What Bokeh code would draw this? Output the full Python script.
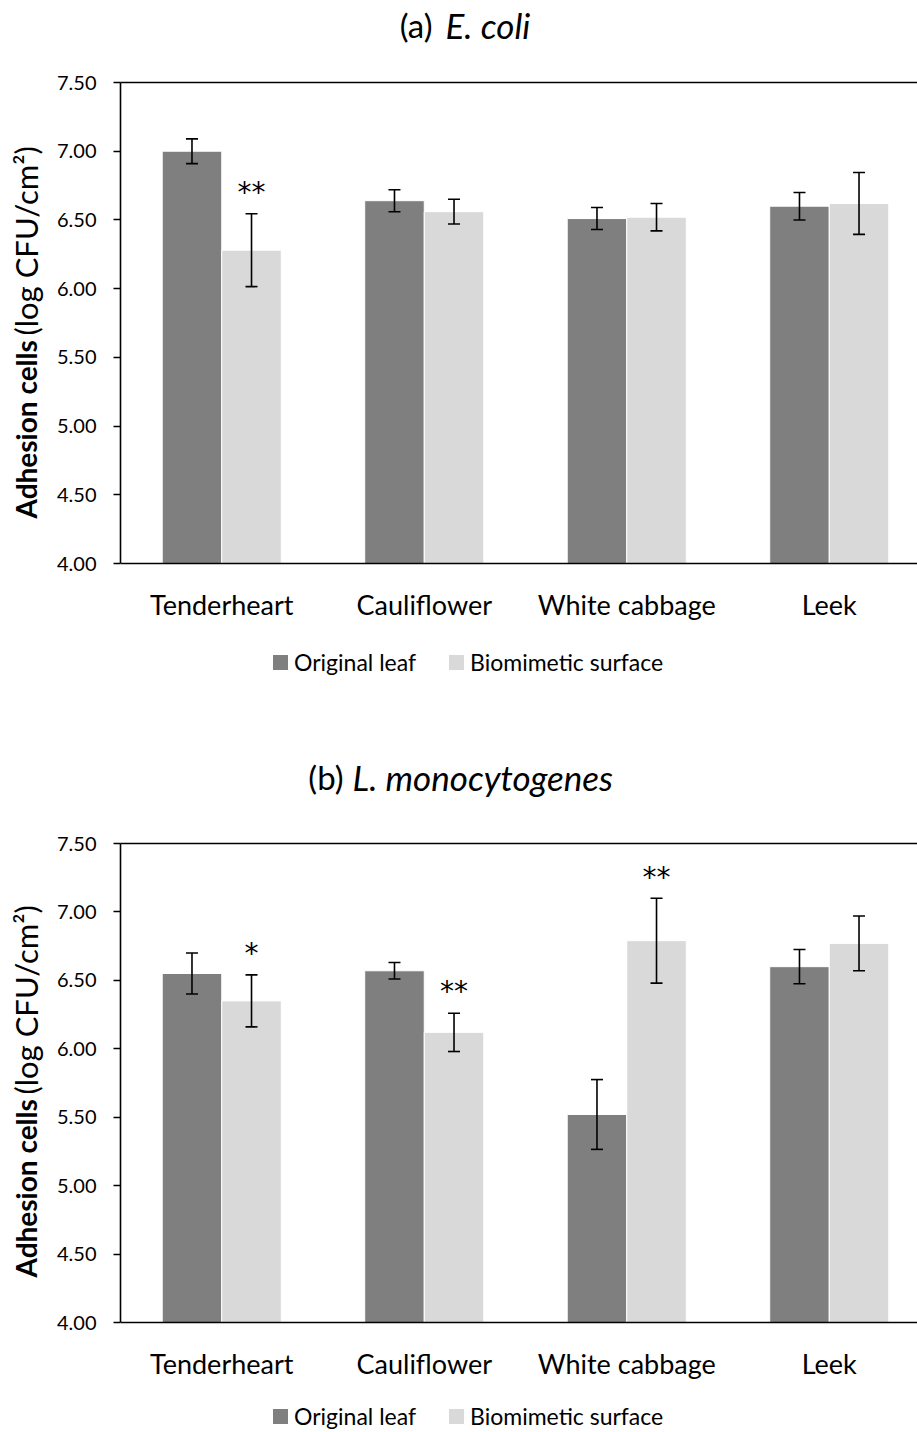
from bokeh.plotting import figure
from bokeh.models import (ColumnDataSource, Whisker, TeeHead, Label, Legend, LegendItem,
                          FixedTicker, LinearAxis, Range1d, NumeralTickFormatter)
from bokeh.layouts import column
from bokeh.embed import file_html
from bokeh.resources import INLINE
from bokeh.core.properties import value

# ---------------- data ----------------
categories = ["Tenderheart", "Cauliflower", "White cabbage", "Leek"]
series_names = ["Original leaf", "Biomimetic surface"]
y_ticks = [4.0, 4.5, 5.0, 5.5, 6.0, 6.5, 7.0, 7.5]
y_min, y_max = 4.0, 7.5

ecoli_original = [7.00, 6.64, 6.51, 6.60]
ecoli_original_err = [0.09, 0.08, 0.08, 0.10]
ecoli_biomimetic = [6.28, 6.56, 6.52, 6.62]
ecoli_biomimetic_err = [0.265, 0.09, 0.10, 0.225]
ecoli_stars_bio = ["**", "", "", ""]

listeria_original = [6.55, 6.57, 5.52, 6.60]
listeria_original_err = [0.15, 0.06, 0.255, 0.125]
listeria_biomimetic = [6.35, 6.12, 6.79, 6.77]
listeria_biomimetic_err = [0.19, 0.14, 0.31, 0.20]
listeria_stars_bio = ["*", "**", "**", ""]

FONT = "Lato"
DARK = "#7f7f7f"
LIGHT = "#d9d9d9"
OFF = 0.147
BW = 0.294
FRAME_LEFT = 120
FRAME_W = 797
BOLD_PX = 28
NORM_PX = 31


def make_panel(tag, organism, orig, orig_err, bio, bio_err, stars,
               plot_h, frame_h, top, title_y, tag_x, org_x, legend_y):
    # plot_h: pixel height of the 4.00..7.50 span; the frame continues below it
    ppu = plot_h / (y_max - y_min)
    y_lo = y_max - frame_h / ppu
    below = (y_min - y_lo) * ppu  # pixels from frame bottom up to the 4.00 line

    p = figure(frame_width=FRAME_W, frame_height=frame_h,
               min_border_left=FRAME_LEFT, min_border_right=0,
               min_border_top=top, min_border_bottom=0,
               x_range=Range1d(0, FRAME_W / 202.5), y_range=Range1d(y_lo, y_max),
               output_backend="svg", toolbar_location=None,
               outline_line_color=None, background_fill_color="white")
    p.xgrid.visible = False
    p.ygrid.visible = False

    xs = [i + 0.5 for i in range(len(categories))]
    src = ColumnDataSource(dict(
        xo=[x - OFF for x in xs], xb=[x + OFF for x in xs],
        orig=orig, bio=bio,
        o_up=[v + e for v, e in zip(orig, orig_err)],
        o_lo=[v - e for v, e in zip(orig, orig_err)],
        b_up=[v + e for v, e in zip(bio, bio_err)],
        b_lo=[v - e for v, e in zip(bio, bio_err)],
        star_y=[v + e + 0.155 for v, e in zip(bio, bio_err)],
        stars=stars,
    ))

    r1 = p.vbar(x="xo", top="orig", bottom=y_min, width=BW, source=src,
                fill_color=DARK, line_color="white", line_width=1)
    r2 = p.vbar(x="xb", top="bio", bottom=y_min, width=BW, source=src,
                fill_color=LIGHT, line_color="white", line_width=1)

    for base, up, lo in (("xo", "o_up", "o_lo"), ("xb", "b_up", "b_lo")):
        w = Whisker(source=src, base=base, upper=up, lower=lo, dimension="height",
                    line_color="black", line_width=1.6, level="annotation",
                    upper_head=TeeHead(size=12, line_color="black", line_width=1.6),
                    lower_head=TeeHead(size=12, line_color="black", line_width=1.6))
        p.add_layout(w)

    p.text(x="xb", y="star_y", text="stars", source=src,
           text_font=value("DejaVu Sans"), text_font_size="28px",
           text_align="center", text_baseline="alphabetic", text_color="black")

    # y axis (limited to 4.00..7.50)
    p.yaxis.bounds = (y_min, y_max)
    p.yaxis.ticker = FixedTicker(ticks=y_ticks)
    p.yaxis.formatter = NumeralTickFormatter(format="0.00")
    p.yaxis.major_tick_out = 7
    p.yaxis.major_tick_in = 0
    p.yaxis.minor_tick_line_color = None
    p.yaxis.axis_line_width = 1.6
    p.yaxis.major_tick_line_width = 1.6
    p.yaxis.axis_line_color = "black"
    p.yaxis.major_tick_line_color = "black"
    p.yaxis.major_label_text_font = FONT
    p.yaxis.major_label_text_font_size = "20px"
    p.yaxis.major_label_text_color = "black"
    p.yaxis.major_label_standoff = 17

    # x axis drawn at 4.00
    p.xaxis.fixed_location = y_min
    p.xaxis.ticker = FixedTicker(ticks=xs)
    p.xaxis.major_label_overrides = {x: c for x, c in zip(xs, categories)}
    p.xaxis.major_tick_line_color = None
    p.xaxis.major_tick_out = 0
    p.xaxis.major_tick_in = 0
    p.xaxis.minor_tick_line_color = None
    p.xaxis.axis_line_width = 1.6
    p.xaxis.axis_line_color = "black"
    p.xaxis.major_label_text_font = FONT
    p.xaxis.major_label_text_font_size = "27px"
    p.xaxis.major_label_text_color = "black"
    p.xaxis.major_label_standoff = 24

    top_axis = LinearAxis(ticker=FixedTicker(ticks=[]),
                          major_tick_line_color=None, minor_tick_line_color=None,
                          major_tick_out=0, major_tick_in=0, major_label_standoff=0,
                          axis_line_color="black", axis_line_width=1.6)
    p.add_layout(top_axis, "above")

    # title: two labels stacked in the 'above' side, aligned on one baseline
    p.add_layout(Label(x=tag_x, y=title_y, x_units="screen", y_units="screen",
                       text=tag, text_align="right", text_baseline="alphabetic",
                       text_font=FONT, text_font_size="33px", text_color="black"), "above")
    p.add_layout(Label(x=org_x, y=title_y - 40, x_units="screen", y_units="screen",
                       text=organism, text_align="left", text_baseline="alphabetic",
                       text_font=FONT, text_font_style="italic",
                       text_font_size="35px", text_color="black"), "above")

    # y-axis title (bold + normal parts); their side panels lie past the right edge
    bold_w = round(BOLD_PX * 1.2)
    p.add_layout(Label(x=25 - (FRAME_LEFT + FRAME_W), y=below + 45,
                       x_units="screen", y_units="screen",
                       text="Adhesion cells", angle=90, angle_units="deg",
                       text_align="left", text_baseline="middle",
                       text_font=FONT, text_font_style="bold",
                       text_font_size=f"{BOLD_PX}px", text_color="black"), "right")
    p.add_layout(Label(x=25 - (FRAME_LEFT + FRAME_W) - bold_w, y=below + 228,
                       x_units="screen", y_units="screen",
                       text="(log CFU/cm²)", angle=90, angle_units="deg",
                       text_align="left", text_baseline="middle",
                       text_font=FONT, text_font_size=f"{NORM_PX}px",
                       text_color="black"), "right")

    legend = Legend(items=[LegendItem(label=series_names[0], renderers=[r1]),
                           LegendItem(label=series_names[1], renderers=[r2])],
                    orientation="horizontal", location=(150, legend_y),
                    border_line_color=None, background_fill_alpha=0,
                    padding=0, margin=0, spacing=30,
                    glyph_width=20, glyph_height=20, label_standoff=4,
                    label_text_font=FONT, label_text_font_size="23px",
                    label_text_color="black")
    p.add_layout(legend)
    return p


p1 = make_panel("(a)", "E. coli", ecoli_original, ecoli_original_err,
                ecoli_biomimetic, ecoli_biomimetic_err, ecoli_stars_bio,
                plot_h=481, frame_h=668, top=82, title_y=58, tag_x=312, org_x=325,
                legend_y=74)
p2 = make_panel("(b)", "L. monocytogenes", listeria_original, listeria_original_err,
                listeria_biomimetic, listeria_biomimetic_err, listeria_stars_bio,
                plot_h=479, frame_h=589, top=93, title_y=67, tag_x=223, org_x=232,
                legend_y=2)

layout = column(p1, p2, spacing=0)
open("out.html", "w").write(file_html(layout, INLINE))
